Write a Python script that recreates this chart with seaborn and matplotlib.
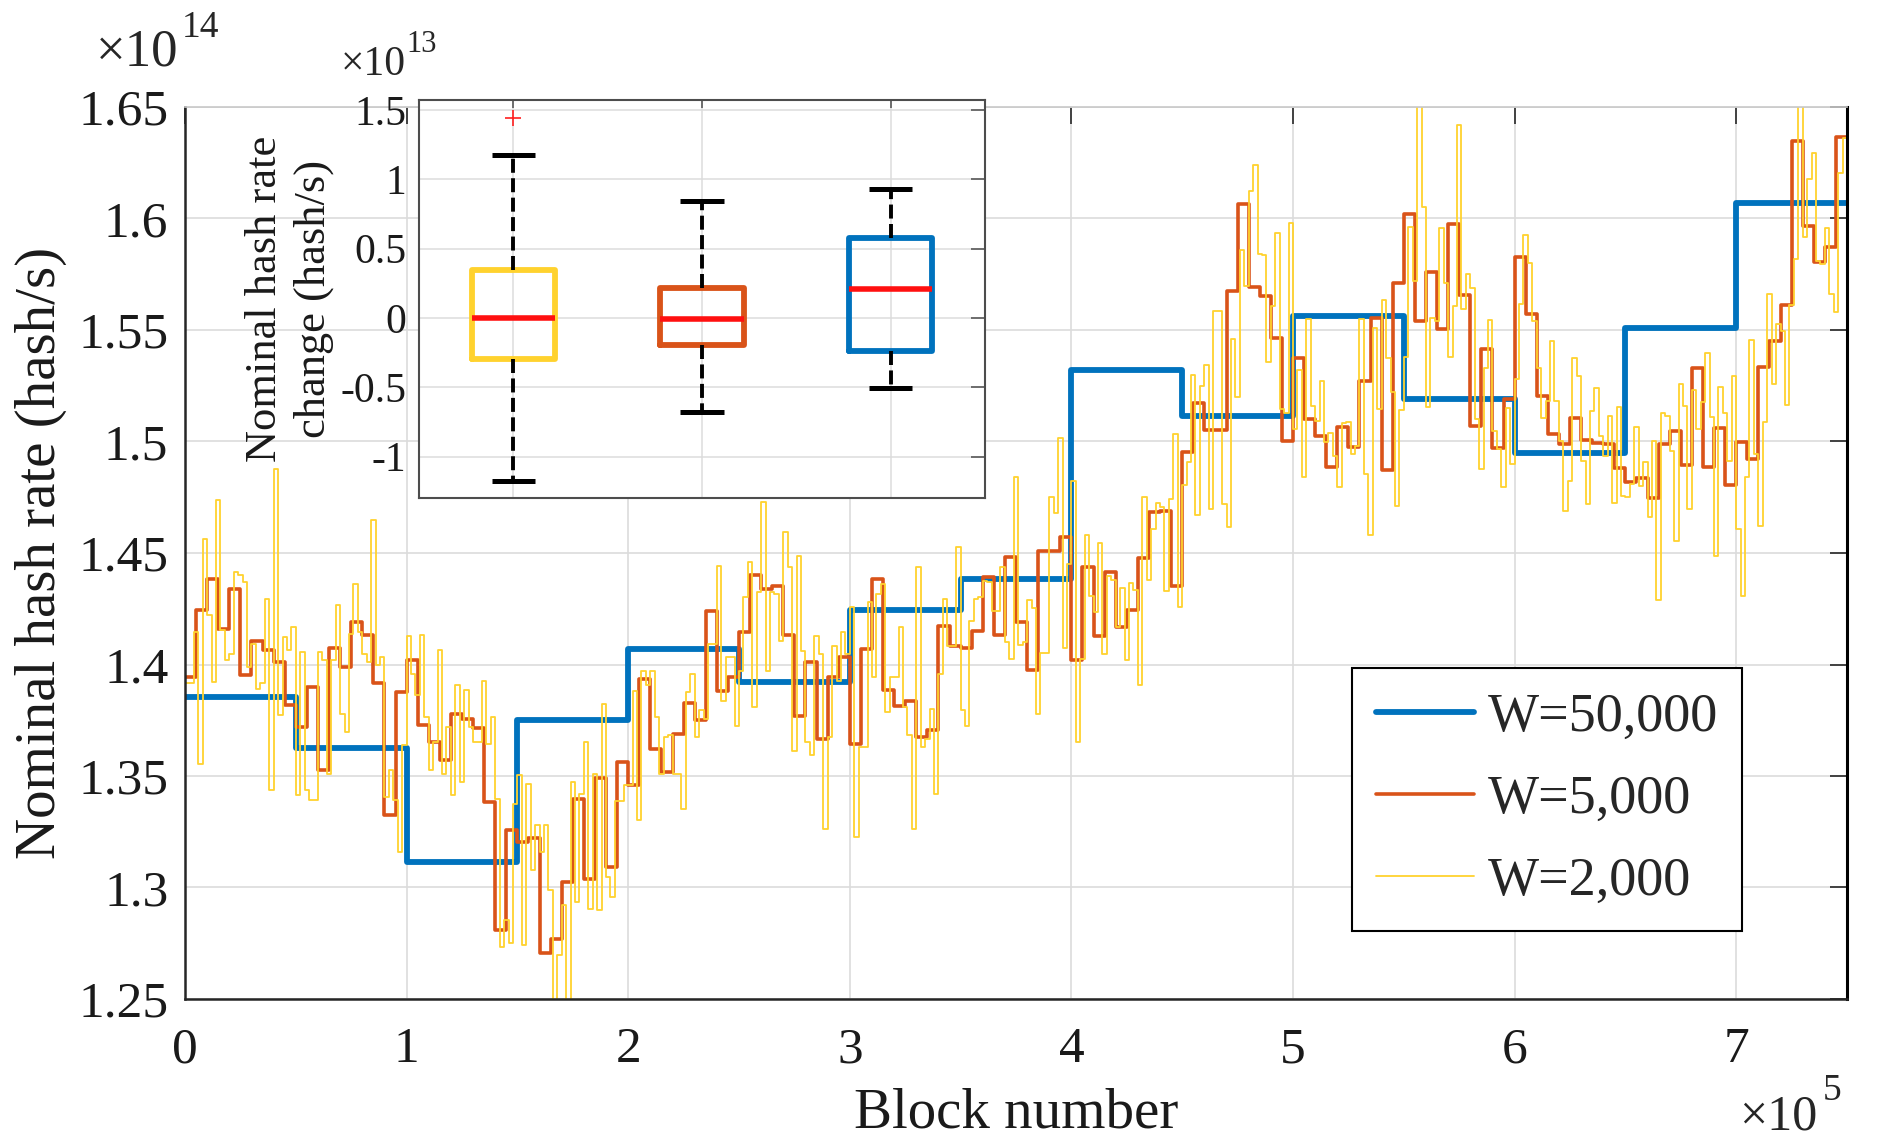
import numpy as np
import pandas as pd
import matplotlib
matplotlib.use("Agg")
import matplotlib.pyplot as plt
import seaborn as sns

# ---------------- data (hash rate in units of 1e14 hash/s) ----------------
series_labels = ["W=50,000", "W=5,000", "W=2,000"]
window_sizes = [50000, 5000, 2000]

rate_w50000 = [1.3855, 1.3626, 1.3115, 1.3749, 1.4068, 1.3920, 1.4245, 1.4385,
               1.5320, 1.5114, 1.5564, 1.5190, 1.4950, 1.5510, 1.6070]

rate_w5000 = [
    1.3944, 1.4243, 1.4385, 1.4161, 1.4340, 1.3952, 1.4106, 1.4064, 1.4009, 1.3817,
    1.3720, 1.3900, 1.3526, 1.4074, 1.3990, 1.4191, 1.4131, 1.3915, 1.3325, 1.3876,
    1.4021, 1.3727, 1.3652, 1.3573, 1.3776, 1.3755, 1.3715, 1.3383, 1.2808, 1.3259,
    1.3204, 1.3220, 1.2707, 1.2771, 1.3025, 1.3398, 1.3040, 1.3490, 1.3092, 1.3562,
    1.3458, 1.3935, 1.3622, 1.3517, 1.3689, 1.3828, 1.3752, 1.4242, 1.3883, 1.3943,
    1.4145, 1.4403, 1.4339, 1.4354, 1.4133, 1.3769, 1.4010, 1.3667, 1.3946, 1.4033,
    1.3644, 1.4070, 1.4384, 1.3886, 1.3816, 1.3838, 1.3674, 1.3707, 1.4174, 1.4082,
    1.4073, 1.4149, 1.4391, 1.4134, 1.4483, 1.4192, 1.3974, 1.4511, 1.4511, 1.4573,
    1.4020, 1.4435, 1.4130, 1.4414, 1.4166, 1.4245, 1.4476, 1.4683, 1.4688, 1.4352,
    1.4954, 1.5172, 1.5052, 1.5051, 1.5673, 1.6064, 1.5694, 1.5653, 1.5464, 1.5004,
    1.5374, 1.5101, 1.5026, 1.4884, 1.5066, 1.4974, 1.5270, 1.5556, 1.4872, 1.5713,
    1.6019, 1.5541, 1.5761, 1.5503, 1.5976, 1.5657, 1.5070, 1.5413, 1.4970, 1.5189,
    1.5827, 1.5573, 1.5204, 1.5032, 1.4990, 1.5104, 1.5005, 1.4995, 1.4987, 1.4882,
    1.4817, 1.4836, 1.4747, 1.4989, 1.5048, 1.4896, 1.5329, 1.4884, 1.5059, 1.4806,
    1.4996, 1.4921, 1.5332, 1.5452, 1.5613, 1.6348, 1.5967, 1.5803, 1.5870, 1.6366,
]

rate_w2000 = [
    1.3915, 1.3915, 1.4146, 1.3556, 1.4564, 1.4221, 1.3922, 1.4736, 1.4154, 1.4019,
    1.4049, 1.4415, 1.4400, 1.4370, 1.3989, 1.4094, 1.3892, 1.3915, 1.4295, 1.3437,
    1.4878, 1.3773, 1.4124, 1.4064, 1.4168, 1.3414, 1.4056, 1.3437, 1.3392, 1.3392,
    1.4056, 1.4019, 1.3511, 1.4019, 1.4266, 1.3780, 1.3698, 1.4139, 1.4363, 1.4146,
    1.4049, 1.4012, 1.4646, 1.3997, 1.4034, 1.3407, 1.3526,
    1.3391, 1.3159, 1.3637, 1.4130, 1.3958, 1.3861, 1.4134, 1.3764, 1.3525, 1.3652,
    1.4063, 1.3510, 1.3719, 1.3413, 1.3906, 1.3473, 1.3884, 1.3719, 1.3652, 1.3652,
    1.3928, 1.3645, 1.3764, 1.3398, 1.2734, 1.2853, 1.2749, 1.3376, 1.3503, 1.2741,
    1.3465, 1.3077, 1.3279, 1.3159, 1.3279, 1.2987, 1.2450, 1.2696, 1.2920, 1.2450,
    1.3473, 1.2935, 1.3421, 1.3652, 1.2905, 1.3510, 1.2900,
    1.3823, 1.3047, 1.2957, 1.3390, 1.3390, 1.3458, 1.3458, 1.3883, 1.3301, 1.3973,
    1.3906, 1.3973, 1.3764, 1.3510, 1.3674, 1.3682, 1.3510, 1.3510, 1.3353, 1.3876,
    1.3958, 1.3674, 1.3794, 1.3756, 1.4092, 1.4092, 1.4443, 1.3838, 1.4033, 1.4033,
    1.3726, 1.3973, 1.4301, 1.4458, 1.3809, 1.4324, 1.4727, 1.3973, 1.4324, 1.4316,
    1.4107, 1.4593, 1.4436, 1.3614, 1.4488, 1.4062,
    1.3652, 1.3592, 1.4130, 1.4047, 1.3263, 1.3674, 1.4085, 1.3928, 1.4145, 1.4047,
    1.4257, 1.3226, 1.3629, 1.3629, 1.4279, 1.3943, 1.4316, 1.4361, 1.3786, 1.3943,
    1.3943, 1.4167, 1.3809, 1.3682, 1.3263, 1.4436, 1.3629, 1.3667, 1.3801, 1.3420,
    1.3958, 1.4294, 1.4085, 1.4085, 1.4525, 1.3794, 1.3726, 1.4197, 1.4294, 1.4301,
    1.4376, 1.4369, 1.4242, 1.4242, 1.4436, 1.4100,
    1.4024, 1.4839, 1.4086, 1.4103, 1.4290, 1.4254, 1.3776, 1.4050, 1.4050, 1.4750,
    1.4680, 1.5016, 1.4073, 1.4449, 1.4821, 1.3652, 1.4024, 1.4582, 1.4307, 1.4236,
    1.4547, 1.4045, 1.4396, 1.4378, 1.4166, 1.4343, 1.4020, 1.4364, 1.4334, 1.3909,
    1.4750, 1.4378, 1.4609, 1.4724, 1.4706, 1.4329, 1.4742, 1.5034, 1.4258, 1.4804,
    1.4910, 1.5300, 1.4671, 1.5247, 1.5344, 1.4697, 1.5583,
    1.5583, 1.4720, 1.4615, 1.5459, 1.5198, 1.5859, 1.5698, 1.6124, 1.6240, 1.5840,
    1.5837, 1.5355, 1.5608, 1.5937, 1.5145, 1.5130, 1.5982, 1.5056, 1.5320, 1.4839,
    1.5549, 1.5160, 1.5093, 1.5272, 1.4996, 1.5036, 1.4936, 1.4795, 1.5081, 1.5086,
    1.4944, 1.4981, 1.5549, 1.4854, 1.4582, 1.5511, 1.5145, 1.5634, 1.5374, 1.5220,
    1.4712, 1.5141, 1.5377, 1.5962, 1.5720, 1.6520,
    1.6051, 1.5155, 1.5555, 1.5540, 1.5958, 1.5712, 1.5379, 1.5607, 1.6421, 1.5592,
    1.5752, 1.5689, 1.5100, 1.4875, 1.5331, 1.5547, 1.5047, 1.4965, 1.4796, 1.5152,
    1.4898, 1.5279, 1.5618, 1.5928, 1.5801, 1.5540, 1.5331, 1.5107, 1.5182, 1.5450,
    1.5182, 1.5002, 1.4689, 1.4823, 1.5376, 1.5294, 1.4913, 1.4719, 1.5137, 1.5241,
    1.5025, 1.4935, 1.5114, 1.4726, 1.5155, 1.4756,
    1.4750, 1.4809, 1.5063, 1.4802, 1.4907, 1.4660, 1.5004, 1.4287, 1.5130, 1.5116,
    1.4959, 1.4556, 1.5260, 1.5160, 1.4697, 1.5230, 1.5056, 1.5175, 1.5399, 1.5108,
    1.4488, 1.5243, 1.5130, 1.4914, 1.5295, 1.4608, 1.4309, 1.4839, 1.5455, 1.4944,
    1.4623, 1.5086, 1.5661, 1.5257, 1.5526, 1.5496, 1.5165, 1.5613, 1.5818, 1.6550,
    1.5915, 1.6176, 1.6295, 1.5810, 1.5798, 1.5959, 1.5661, 1.5579, 1.6206, 1.6363,
]

# inset box plot statistics (hash rate change in units of 1e13 hash/s)
box_names = ["W=2,000", "W=5,000", "W=50,000"]
box_med = [0.000, -0.005, 0.212]
box_q1 = [-0.294, -0.197, -0.238]
box_q3 = [0.349, 0.219, 0.575]
box_whislo = [-1.172, -0.679, -0.503]
box_whishi = [1.174, 0.845, 0.927]
box_fliers = [[1.439], [], []]

x_ticks = [0, 1, 2, 3, 4, 5, 6, 7]
x_tick_labels = ["0", "1", "2", "3", "4", "5", "6", "7"]
y_ticks = [1.25, 1.30, 1.35, 1.40, 1.45, 1.50, 1.55, 1.60, 1.65]
y_tick_labels = ["1.25", "1.3", "1.35", "1.4", "1.45", "1.5", "1.55", "1.6", "1.65"]
inset_y_ticks = [-1, -0.5, 0, 0.5, 1, 1.5]
inset_y_tick_labels = ["-1", "-0.5", "0", "0.5", "1", "1.5"]

# ---------------- style ----------------
sns.set_style("white")
plt.rcParams['font.family'] = ['Liberation Serif', 'DejaVu Serif']
plt.rcParams['axes.unicode_minus'] = False

C_BLUE = '#0072BD'
C_ORANGE = '#D95319'
C_YELLOW = '#FFD22E'
GRID_C = '#DCDCDC'
SPINE_C = '#262626'

fig = plt.figure(figsize=(18.78, 11.42), dpi=100)
ax = fig.add_axes([185/1878, 1-999/1142, (1847-185)/1878, (999-107)/1142])

series = [rate_w50000, rate_w5000, rate_w2000]
colors = [C_BLUE, C_ORANGE, C_YELLOW]
widths = [4.2, 2.6, 1.3]
for vals, W, lab, col, lw in zip(series, window_sizes, series_labels, colors, widths):
    n = len(vals)
    df = pd.DataFrame({
        "block": np.arange(n + 1) * W / 1e5,
        "rate": list(vals) + [vals[-1]],
    })
    sns.lineplot(data=df, x="block", y="rate", ax=ax, color=col, linewidth=lw,
                 drawstyle='steps-post', label=lab, estimator=None, sort=False)

ax.set_xlim(0, 7.5)
ax.set_ylim(1.25, 1.65)
ax.set_xticks(x_ticks)
ax.set_xticklabels(x_tick_labels)
ax.set_yticks(y_ticks)
ax.set_yticklabels(y_tick_labels)
ax.grid(True, color=GRID_C, linewidth=1.2)
ax.set_axisbelow(True)
ax.tick_params(axis='x', direction='in', length=12, width=1.2, colors=SPINE_C,
               labelsize=37, labelcolor='#1a1a1a', pad=20, top=True)
ax.tick_params(axis='y', direction='in', length=12, width=1.2, colors=SPINE_C,
               labelsize=37, labelcolor='#1a1a1a', pad=12, right=True)
for s in ['left', 'bottom']:
    ax.spines[s].set_color(SPINE_C)
    ax.spines[s].set_linewidth(1.8)
ax.spines['right'].set_color('black')
ax.spines['right'].set_linewidth(2.2)
ax.spines['top'].set_color('#C8C8C8')
ax.spines['top'].set_linewidth(1.2)

ax.set_xlabel("Block number", fontsize=41, color='#1a1a1a', labelpad=10)
ax.set_ylabel("Nominal hash rate (hash/s)", fontsize=41, color='#1a1a1a', labelpad=8)

leg = ax.legend(loc='upper left', bbox_to_anchor=(1352/1878, 1-668/1142),
                bbox_transform=fig.transFigure, borderaxespad=0,
                fontsize=39, frameon=True, fancybox=False, framealpha=1,
                edgecolor='black', borderpad=0.45, labelspacing=0.58,
                handlelength=1.8, handletextpad=0.25)
leg.get_frame().set_linewidth(1.5)

# exponent labels
fig.text(96/1878, 1-65/1142, "\u00d710", fontsize=38, ha='left', va='baseline', color='#262626')
fig.text(182/1878, 1-37/1142, "14", fontsize=27, ha='left', va='baseline', color='#262626')
fig.text(1739/1878, 1-1129/1142, "\u00d710", fontsize=36, ha='left', va='baseline', color='#262626')
fig.text(1823/1878, 1-1100/1142, "5", fontsize=27, ha='left', va='baseline', color='#262626')

# ---------------- inset box plot ----------------
ins = fig.add_axes([419/1878, 1-498/1142, (985-419)/1878, (498-100)/1142])
ins.set_facecolor('white')
stats = []
for i in range(3):
    stats.append(dict(med=box_med[i], q1=box_q1[i], q3=box_q3[i],
                      whislo=box_whislo[i], whishi=box_whishi[i],
                      fliers=box_fliers[i], label=box_names[i]))
box_colors = [C_YELLOW, C_ORANGE, C_BLUE]
for i, st in enumerate(stats):
    ins.bxp([st], positions=[i + 1], widths=0.44, capwidths=0.23,
            boxprops=dict(color=box_colors[i], linewidth=4.2),
            medianprops=dict(color='#FF1010', linewidth=4.0, solid_capstyle='butt'),
            whiskerprops=dict(color='black', linewidth=2.8, linestyle=(0, (3.6, 1.4))),
            capprops=dict(color='black', linewidth=3.6, solid_capstyle='butt'),
            flierprops=dict(marker='+', markeredgecolor='#FF2020', markersize=11,
                            markeredgewidth=1.2, linestyle='none'),
            showfliers=True, manage_ticks=False, zorder=3)
ins.set_xlim(0.5, 3.5)
ins.set_ylim(-1.298, 1.572)
ins.set_xticks([1, 2, 3])
ins.set_xticklabels([])
ins.set_yticks(inset_y_ticks)
ins.set_yticklabels(inset_y_tick_labels)
ins.grid(True, color=GRID_C, linewidth=1.1)
ins.set_axisbelow(True)
ins.tick_params(axis='x', direction='in', length=6, width=1.1, colors='#4d4d4d', top=True)
ins.tick_params(axis='y', direction='in', length=10, width=1.1, colors='#4d4d4d',
                labelsize=30, labelcolor='#1a1a1a', pad=9, right=True)
for s in ins.spines.values():
    s.set_color('#4d4d4d')
    s.set_linewidth(1.5)
ins.set_ylabel("Nominal hash rate\nchange (hash/s)", fontsize=32, color='#1a1a1a',
               labelpad=5, linespacing=1.25)
fig.text(341/1878, 1-75/1142, "\u00d710", fontsize=30, ha='left', va='baseline', color='#262626')
fig.text(406/1878, 1-52/1142, "13", fontsize=22, ha='left', va='baseline', color='#262626')

fig.savefig("out.png", dpi=100)
